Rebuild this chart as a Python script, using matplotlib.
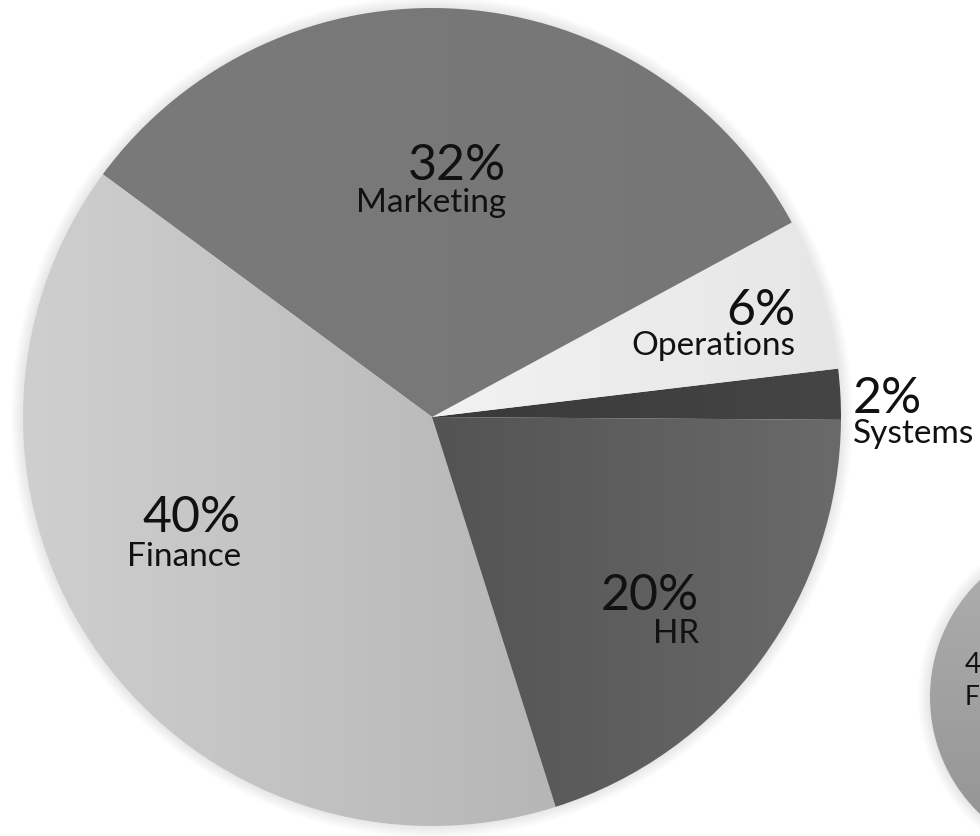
import matplotlib.pyplot as plt
import numpy as np
from matplotlib.patches import Circle
from matplotlib.colors import LinearSegmentedColormap

W, H = 980, 836

departments = ['Systems', 'Operations', 'Marketing', 'Finance', 'HR']
shares = [2, 6, 32, 40, 20]

# grey at the left and right side of each slice
shade_left = ['#393939', '#f2f2f2', '#7a7a7a', '#cfcfcf', '#535353']
shade_right = ['#454545', '#e6e6e6', '#767676', '#b6b6b6', '#6a6a6a']

# label anchors in pixels (x, baseline of %, baseline of name, alignment)
label_x = [853, 795, 506, 241, 699]
pct_y = [413, 325, 180, 532, 610]
name_y = [443, 355, 212, 566, 643]
label_ha = ['left', 'right', 'right', 'right', 'right']

plt.rcParams['font.family'] = ['Lato', 'DejaVu Sans']

fig = plt.figure(figsize=(W / 100, H / 100), dpi=100)
ax = fig.add_axes([0, 0, 1, 1])


def shadow(x, y, rad):
    for k in range(12):
        ax.add_patch(Circle((x, y), rad + 12 - k, color='k', alpha=0.008, lw=0, zorder=0))


def fill_gradient(patch, c0, c1, vertical=False):
    cmap = LinearSegmentedColormap.from_list('g', [c0, c1])
    ext = patch.get_path().transformed(patch.get_patch_transform()).get_extents()
    g = np.linspace(0, 1, 256)
    img = g.reshape(-1, 1) if vertical else g.reshape(1, -1)
    im = ax.imshow(img, cmap=cmap, aspect='auto', origin='upper' if vertical else 'lower',
                   extent=(ext.x0, ext.x1, ext.y0, ext.y1), zorder=2, interpolation='bilinear')
    im.set_clip_path(patch)


# main pie
cx, cy, r = 432, H - 417, 409
shadow(cx, cy, r)
wedges, _ = ax.pie(shares, center=(cx, cy), radius=r, startangle=-0.4,
                   counterclock=True, wedgeprops=dict(lw=0))
for w, c0, c1 in zip(wedges, shade_left, shade_right):
    w.set_facecolor('none')
    fill_gradient(w, c0, c1)

for name, v, x, py, ny, ha in zip(departments, shares, label_x, pct_y, name_y, label_ha):
    ax.text(x, H - py, f'{v}%', fontsize=36, ha=ha, va='baseline', color='#111111', zorder=5)
    ax.text(x, H - ny, name, fontsize=24, ha=ha, va='baseline', color='#111111', zorder=5)

# second, smaller copy peeking in at the right edge (cut off as in the source)
c2x, c2y, r2 = 1092, H - 697, 162
shadow(c2x, c2y, r2)
disc = Circle((c2x, c2y), r2, facecolor='none', lw=0, zorder=1)
ax.add_patch(disc)
fill_gradient(disc, '#b0b0b0', '#929292', vertical=True)
ax.text(965, H - 673, f'{shares[3]}%', fontsize=20, ha='left', va='baseline', color='#111111', zorder=5)
ax.text(965, H - 705, departments[3], fontsize=19, ha='left', va='baseline', color='#111111', zorder=5)

ax.set_xlim(0, W)
ax.set_ylim(0, H)
ax.set_aspect('auto')
ax.axis('off')

fig.savefig('out.png', dpi=100, facecolor='white')
